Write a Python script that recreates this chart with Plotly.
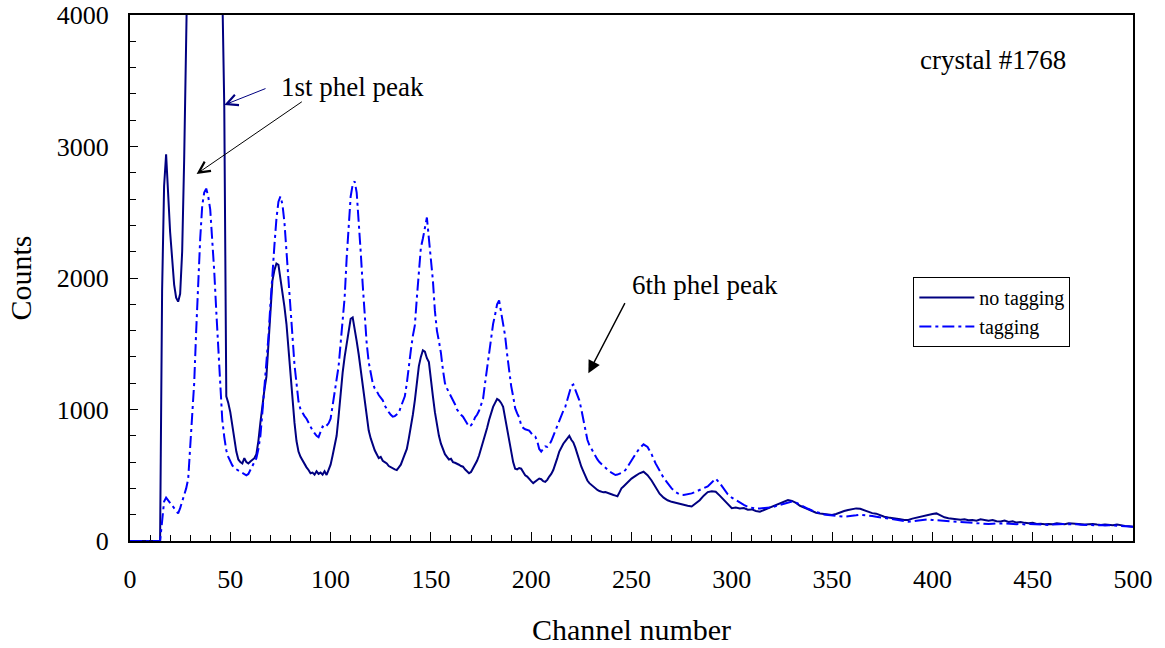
import plotly.graph_objects as go

# Channel numbers: every channel up to 250, every second channel beyond
channels_fine = list(range(0, 251))
channels_coarse = list(range(252, 501, 2))

# Counts without tagging, channels 0..250
no_tag_fine = [
    0, 0, 0, 0, 0, 0, 0, 0, 0, 0, 0, 0, 0, 0, 0, 0,
    1900, 2700, 2940, 2600, 2350, 2150, 1950, 1850, 1820, 1880, 2200, 2900, 4300, 5600, 7000,
    8200, 9200, 9800, 10100, 10200, 10000, 9600, 9000, 8300, 7500, 6800, 6200, 5700, 5200, 4700,
    4200, 3300, 1100, 1050, 980, 880, 770, 680, 620, 600, 590, 630, 600, 590, 605,
    615, 630, 660, 760, 900, 1050, 1150, 1250, 1500, 1800, 1980, 2060, 2110, 2100, 2000,
    1900, 1780, 1650, 1450, 1250, 1100, 900, 760, 680, 640, 610, 580, 560, 540, 515,
    520, 505, 530, 510, 520, 505, 530, 502, 540, 580, 650, 720, 800, 950, 1150,
    1280, 1400, 1500, 1580, 1690, 1700, 1620, 1520, 1420, 1300, 1200, 1050, 930, 840, 780,
    730, 690, 660, 630, 640, 610, 600, 590, 570, 560, 555, 545, 540, 560, 580,
    620, 660, 700, 780, 860, 960, 1070, 1200, 1330, 1400, 1450, 1440, 1390, 1360, 1250,
    1100, 980, 880, 800, 740, 700, 660, 640, 620, 625, 600, 595, 590, 580, 570,
    565, 545, 530, 515, 525, 550, 575, 610, 650, 700, 745, 800, 860, 920, 980,
    1020, 1050, 1080, 1070, 1050, 1020, 940, 860, 760, 680, 600, 550, 545, 555, 550,
    525, 500, 490, 470, 455, 440, 450, 465, 475, 470, 455, 450, 465, 490, 510,
    540, 580, 630, 680, 715, 740, 760, 785, 800, 770, 750, 710, 660, 610, 565,
    530, 495, 460, 440, 425, 410, 395, 388, 380, 375, 370, 372, 365, 362, 355,
    350, 345, 340, 370, 400, 415, 430, 445, 460, 475,
]

# Counts without tagging, channels 252..500 (step 2)
no_tag_coarse = [
    495, 515, 527, 500, 460, 410, 360, 330, 310, 298, 290, 280, 274, 268, 262,
    285, 310, 345, 372, 378, 375, 345, 312, 280, 250, 255, 248, 251, 238, 240,
    228, 223, 235, 248, 262, 274, 285, 298, 312, 305, 290, 268, 255, 240, 228,
    215, 210, 205, 200, 198, 205, 218, 228, 236, 242, 248, 245, 232, 222, 212,
    208, 195, 185, 178, 172, 168, 165, 160, 160, 170, 178, 185, 190, 198, 205,
    210, 195, 180, 173, 170, 166, 162, 165, 158, 160, 155, 165, 160, 155, 160,
    150, 148, 155, 145, 150, 140, 145, 138, 135, 138, 130, 132, 128, 130, 128,
    134, 130, 128, 135, 132, 128, 130, 125, 128, 130, 125, 122, 125, 122, 120,
    125, 118, 115, 112, 108,
]

# Counts with tagging, channels 0..250
tag_fine = [
    0, 0, 0, 0, 0, 0, 0, 0, 0, 0, 0, 0, 0, 0, 0, 0,
    150, 300, 330, 310, 295, 275, 255, 230, 210, 250, 300, 350, 400, 470, 720,
    960, 1200, 1600, 2000, 2300, 2550, 2650, 2680, 2620, 2520, 2300, 2050, 1750, 1450, 1180,
    920, 790, 690, 640, 600, 575, 555, 545, 535, 525, 515, 505, 500, 510, 540,
    560, 590, 630, 700, 800, 980, 1150, 1320, 1550, 1800, 2050, 2250, 2450, 2580, 2620,
    2560, 2420, 2200, 1950, 1700, 1500, 1340, 1200, 1060, 1000, 970, 950, 930, 900, 860,
    840, 820, 800, 790, 830, 870, 860, 880, 895, 930, 1020, 1130, 1230, 1330, 1500,
    1680, 1850, 2150, 2420, 2620, 2710, 2735, 2650, 2450, 2200, 1950, 1700, 1500, 1360, 1270,
    1200, 1160, 1140, 1110, 1090, 1070, 1030, 1000, 980, 960, 945, 950, 960, 975, 1020,
    1060, 1100, 1200, 1350, 1450, 1560, 1640, 1850, 2080, 2230, 2300, 2380, 2460, 2300, 2150,
    1980, 1750, 1600, 1520, 1430, 1300, 1200, 1160, 1130, 1110, 1080, 1040, 1000, 975, 960,
    945, 920, 895, 870, 880, 900, 940, 960, 990, 1040, 1080, 1200, 1320, 1450, 1560,
    1650, 1720, 1800, 1830, 1750, 1660, 1560, 1420, 1290, 1180, 1100, 1010, 970, 940, 880,
    860, 850, 845, 840, 820, 800, 795, 760, 700, 680, 700, 720, 715, 730, 760,
    800, 840, 870, 910, 950, 990, 1020, 1080, 1140, 1180, 1190, 1150, 1110, 1070, 1000,
    920, 850, 770, 730, 700, 670, 640, 620, 600, 585, 570, 555, 545, 530, 520,
    510, 502, 505, 510, 515, 525, 540, 565, 595, 620,
]

# Counts with tagging, channels 252..500 (step 2)
tag_coarse = [
    660, 705, 735, 715, 660, 590, 535, 480, 440, 400, 372, 355, 350, 355, 362,
    375, 388, 400, 415, 445, 475, 440, 400, 355, 330, 310, 290, 275, 260, 250,
    245, 248, 250, 250, 255, 265, 275, 285, 295, 300, 292, 275, 258, 245, 232,
    220, 210, 202, 198, 195, 192, 188, 185, 188, 190, 195, 200, 198, 195, 190,
    185, 180, 178, 175, 170, 162, 158, 150, 147, 150, 155, 160, 165, 165, 160,
    158, 155, 150, 147, 148, 145, 142, 140, 140, 138, 135, 132, 130, 129, 132,
    135, 133, 135, 132, 130, 128, 130, 126, 129, 127, 124, 122, 124, 122, 125,
    128, 126, 130, 128, 130, 127, 124, 122, 124, 122, 120, 122, 118, 120, 118,
    115, 118, 112, 110, 108,
]

channels = channels_fine + channels_coarse
no_tagging = no_tag_fine + no_tag_coarse
tagging = tag_fine + tag_coarse

SERIF = "Liberation Serif, Times New Roman, serif"
NAVY = "#000080"
BLUE = "#0000ff"

fig = go.Figure()
fig.add_trace(go.Scatter(
    x=channels, y=no_tagging, mode="lines", name="no tagging",
    line=dict(color=NAVY, width=2),
))
fig.add_trace(go.Scatter(
    x=channels, y=tagging, mode="lines", name="tagging",
    line=dict(color=BLUE, width=2, dash="12px,4px,3px,4px"),
))

# Labels and arrows
fig.add_annotation(x=430, y=3660, xref="x", yref="y", text="crystal #1768",
                   showarrow=False, font=dict(family=SERIF, size=27, color="black"))
fig.add_annotation(x=111, y=3452, xref="x", yref="y", text="1st phel peak",
                   showarrow=False, font=dict(family=SERIF, size=27, color="black"))
fig.add_annotation(x=47.0, y=3316, ax=68.3, ay=3445, xref="x", yref="y",
                   axref="x", ayref="y", text="", showarrow=True,
                   arrowhead=5, arrowsize=2.2, arrowwidth=1, arrowcolor=NAVY)
fig.add_annotation(x=33.2, y=2791, ax=86.4, ay=3348, xref="x", yref="y",
                   axref="x", ayref="y", text="", showarrow=True,
                   arrowhead=5, arrowsize=2.2, arrowwidth=1, arrowcolor="black")
fig.add_annotation(x=286.4, y=1947, xref="x", yref="y", text="6th phel peak",
                   showarrow=False, font=dict(family=SERIF, size=27, color="black"))
fig.add_annotation(x=228.5, y=1275, ax=247.1, ay=1820, xref="x", yref="y",
                   axref="x", ayref="y", text="", showarrow=True,
                   arrowhead=2, arrowsize=1.8, arrowwidth=1.4, arrowcolor="black")

axis_common = dict(
    showline=True, linecolor="black", linewidth=2, mirror=True,
    showgrid=False, zeroline=False, ticks="inside", tickcolor="black",
    tickfont=dict(family=SERIF, size=26, color="black"),
)

fig.update_xaxes(
    range=[0, 500], dtick=50, tick0=0, ticklen=9, tickwidth=1,
    minor=dict(dtick=10, ticks="inside", ticklen=6, tickcolor="black", tickwidth=1),
    title=dict(text="Channel number", font=dict(family=SERIF, size=30, color="black"), standoff=26),
    ticklabelstandoff=14, layer="below traces",
    **axis_common,
)
fig.update_yaxes(
    range=[0, 4000], dtick=1000, tick0=0, ticklen=8, tickwidth=1,
    minor=dict(dtick=200, ticks="inside", ticklen=6, tickcolor="black", tickwidth=1),
    title=dict(text="Counts", font=dict(family=SERIF, size=30, color="black"), standoff=16),
    ticklabelstandoff=14,
    **axis_common,
)

fig.update_layout(
    width=1165, height=648,
    margin=dict(l=130, r=32, t=15, b=107, autoexpand=False),
    paper_bgcolor="white", plot_bgcolor="white",
    showlegend=True,
    legend=dict(
        x=0.781, y=0.502, xanchor="left", yanchor="top",
        bgcolor="white", bordercolor="black", borderwidth=1,
        font=dict(family=SERIF, size=20, color="black"),
        itemwidth=55, tracegroupgap=0,
    ),
)

fig.write_html("out.html")
